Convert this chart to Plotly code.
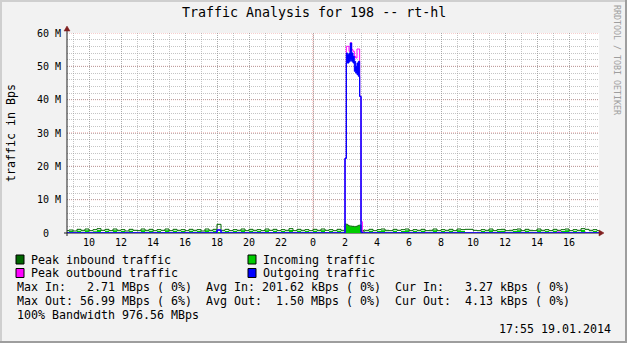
import pandas as pd
import plotly.graph_objects as go

# ---------------- data (values in MBps) ----------------
title_text = "Traffic Analysis for 198 -- rt-hl"
axis_start = "2014-01-18 08:37:30"
axis_end = "2014-01-19 17:52:30"
spike_start = "2014-01-19 02:00:00"

# 15-minute baseline before the burst (ends at 02:00), tenths of MBps
peak_in_pre = [7, 9, 6, 11, 8, 12, 7, 10, 13, 8,
               11, 7, 12, 8, 10, 6, 11, 8, 7, 12,
               8, 11, 7, 10, 8, 12, 7, 11, 8, 10,
               7, 11, 8, 10, 6, 12, 8, 11, 26, 8,
               11, 7, 10, 8, 12, 7, 11, 8, 10, 7,
               12, 8, 11, 7, 10, 8, 13, 7, 11, 8,
               10, 7, 11, 8, 12, 8, 10, 7, 11, 8]
in_pre = [3, 6, 2, 7, 4, 8, 3, 5, 9, 3,
          7, 3, 8, 4, 6, 2, 7, 3, 2, 8,
          4, 7, 2, 6, 3, 8, 3, 7, 4, 6,
          3, 7, 4, 6, 2, 8, 4, 7, 3, 4,
          6, 3, 6, 4, 8, 2, 7, 4, 6, 3,
          8, 3, 7, 3, 6, 4, 9, 2, 7, 4,
          6, 3, 7, 4, 8, 3, 6, 2, 7, 4]
out_pre = [0, 0, 0, 0, 0, 0, 0, 0, 0, 0,
           0, 0, 0, 0, 0, 0, 0, 0, 0, 0,
           0, 0, 0, 0, 0, 0, 0, 0, 0, 0,
           0, 0, 0, 0, 0, 0, 0, 0, 9, 0,
           0, 0, 0, 0, 0, 0, 0, 0, 0, 0,
           0, 0, 0, 0, 0, 0, 0, 0, 0, 0,
           0, 0, 0, 0, 0, 0, 0, 0, 0, 0]

# 5-minute samples of the burst, 02:00 .. 03:10 (MBps)
peak_in_spike = [2.71, 2.6, 2.3, 2.1, 2.1, 2.0, 2.0, 1.9, 2.0, 2.1, 2.3, 2.4, 0.8, 0.5, 0.9]
in_spike = [2.6, 2.5, 2.2, 2.0, 2.0, 1.9, 1.9, 1.8, 1.9, 2.0, 2.2, 2.3, 0.4, 0.2, 0.5]
out_hi_spike = [22.4, 54.0, 53.5, 54.0, 56.99, 54.0, 53.0, 51.5, 50.0, 51.0, 51.5, 41.0, 0.2, 0.0, 0.0]
out_lo_spike = [22.4, 51.0, 51.0, 51.5, 52.0, 51.5, 51.0, 48.5, 48.0, 47.5, 47.0, 41.0, 0.2, 0.0, 0.0]
peak_out_spike = [22.4, 56.0, 56.0, 54.5, 57.1, 55.0, 54.5, 53.0, 52.5, 55.2, 55.2, 41.0, 3.4, 0.3, 0.0]

# 15-minute baseline after the burst (from 03:15), tenths of MBps
peak_in_post = [8, 11, 7, 10, 12, 8, 7, 11, 8, 10,
                12, 7, 10, 8, 11, 7, 8, 12, 7, 10,
                8, 11, 7, 12, 10, 11, 11, 8, 7, 10,
                8, 12, 7, 10, 11, 7, 8, 10, 12, 7,
                11, 8, 7, 12, 8, 10, 7, 11, 8, 10,
                12, 7, 10, 8, 13, 11, 8, 10, 7]
in_post = [4, 7, 3, 6, 8, 4, 3, 7, 3, 6,
           8, 3, 6, 4, 7, 2, 4, 8, 3, 6,
           4, 7, 3, 8, 6, 2, 2, 1, 3, 6,
           4, 8, 3, 6, 7, 3, 4, 6, 8, 3,
           7, 4, 3, 8, 4, 6, 3, 7, 4, 6,
           8, 3, 6, 4, 9, 2, 4, 6, 3]
out_post = [0, 0, 0, 0, 0, 0, 0, 0, 0, 0,
            0, 0, 0, 0, 0, 0, 0, 0, 0, 0,
            0, 0, 0, 0, 0, 0, 0, 0, 0, 0,
            0, 0, 0, 0, 0, 0, 0, 0, 0, 0,
            0, 0, 0, 0, 0, 0, 0, 0, 0, 0,
            0, 0, 0, 0, 0, 0, 0, 0, 0]
peak_out_post = [0, 0, 0, 0, 0, 0, 0, 0, 0, 0,
                 0, 0, 0, 0, 0, 0, 0, 0, 0, 0,
                 0, 0, 0, 0, 0, 0, 0, 0, 0, 0,
                 0, 0, 0, 0, 0, 0, 0, 0, 0, 0,
                 0, 0, 0, 0, 0, 0, 0, 0, 3, 0,
                 0, 0, 0, 0, 0, 0, 0, 0, 0]

x_tick_times = ["2014-01-18 10:00", "2014-01-18 12:00", "2014-01-18 14:00", "2014-01-18 16:00",
                "2014-01-18 18:00", "2014-01-18 20:00", "2014-01-18 22:00", "2014-01-19 00:00",
                "2014-01-19 02:00", "2014-01-19 04:00", "2014-01-19 06:00", "2014-01-19 08:00",
                "2014-01-19 10:00", "2014-01-19 12:00", "2014-01-19 14:00", "2014-01-19 16:00"]
x_tick_labels = ["10", "12", "14", "16", "18", "20", "22", "0", "2", "4", "6", "8",
                 "10", "12", "14", "16"]
y_tick_vals = [0, 10, 20, 30, 40, 50, 60]
y_tick_labels = ["0\u00a0\u00a0", "10 M", "20 M", "30 M", "40 M", "50 M", "60 M"]
y_major_grid = [10, 20, 30, 40, 50, 60]
midnight = "2014-01-19 00:00"

legend_items = [("Peak inbound traffic", "#006600"), ("Incoming traffic", "#00CC00"),
                ("Peak outbound traffic", "#FF00FF"), ("Outgoing traffic", "#0000FF")]
stats_lines = ["Max In:   2.71 MBps ( 0%)  Avg In: 201.62 kBps ( 0%)  Cur In:   3.27 kBps ( 0%)",
               "Max Out: 56.99 MBps ( 6%)  Avg Out:  1.50 MBps ( 0%)  Cur Out:  4.13 kBps ( 0%)",
               "100% Bandwidth 976.56 MBps"]
timestamp_text = "17:55 19.01.2014"
watermark_text = "RRDTOOL / TOBI OETIKER"

# ---------------- build time series ----------------
t_spike = pd.Timestamp(spike_start)
q = pd.Timedelta(minutes=15)
f = pd.Timedelta(minutes=5)
times = ([t_spike - (len(in_pre) - i) * q for i in range(len(in_pre))]
         + [t_spike + i * f for i in range(len(in_spike))])
t_post = t_spike + len(in_spike) * f
times += [t_post + i * q for i in range(len(in_post))]
times.append(times[-1] + q)


def series(pre, spike, post, scale_pre=0.1):
    vals = [v * scale_pre for v in pre] + list(spike) + [v * scale_pre for v in post]
    return vals + [vals[-1]]


in_all = series(in_pre, in_spike, in_post)
peak_in_all = series(peak_in_pre, peak_in_spike, peak_in_post)
out_lo_all = series(out_pre, out_lo_spike, out_post)
out_hi_all = series(out_pre, out_hi_spike, out_post)
peak_out_all = series(out_pre, peak_out_spike, peak_out_post)

# ---------------- figure ----------------
W, H = 627, 343
L, R, T, B = 67, 28, 33, 110
PW, PH = W - L - R, H - T - B
MONO = "DejaVu Sans Mono"


def px(x):
    return (x - L) / PW


def py(y):
    return (T + PH - y) / PH


fig = go.Figure()
fig.add_trace(go.Scatter(x=times, y=in_all, mode="lines", line=dict(color="#00CC00", width=0, shape="hv"),
                         fill="tozeroy", fillcolor="#00CC00", hoverinfo="skip"))
fig.add_trace(go.Scatter(x=times, y=peak_in_all, mode="lines", line=dict(color="#006600", width=1, shape="hv"),
                         hoverinfo="skip"))
fig.add_trace(go.Scatter(x=times, y=peak_out_all, mode="lines", line=dict(color="#FF00FF", width=1, shape="hv"),
                         hoverinfo="skip"))
fig.add_trace(go.Scatter(x=times, y=out_lo_all, mode="lines", line=dict(color="#0000FF", width=1, shape="hv"),
                         hoverinfo="skip"))
fig.add_trace(go.Scatter(x=times, y=out_hi_all, mode="lines", line=dict(color="#0000FF", width=1, shape="hv"),
                         fill="tonexty", fillcolor="#0000FF", hoverinfo="skip"))

grid_minor = "rgba(150,150,150,0.55)"
grid_major = "rgba(222,79,79,0.55)"
dots = "1px,1px"

fig.update_layout(
    width=W, height=H, margin=dict(l=L, r=R, t=T, b=B, pad=0),
    paper_bgcolor="#F2F2F2", plot_bgcolor="#FFFFFF", showlegend=False,
    font=dict(family=MONO, color="#000000", size=10),
    xaxis=dict(type="date", range=[axis_start, axis_end], tickmode="array",
               tickvals=x_tick_times, ticktext=x_tick_labels,
               showgrid=True, gridcolor=grid_minor, griddash=dots, gridwidth=1,
               minor=dict(dtick=3600000, tick0="2014-01-18 00:00", showgrid=True,
                          gridcolor=grid_minor, griddash=dots, gridwidth=1),
               ticks="", showline=False, zeroline=False,
               tickfont=dict(family=MONO, size=10, color="#000000"), ticklabelstandoff=2),
    yaxis=dict(range=[0, 60], tickmode="array", tickvals=y_tick_vals, ticktext=y_tick_labels,
               showgrid=False,
               minor=dict(dtick=2, showgrid=True, gridcolor=grid_minor, griddash=dots, gridwidth=1),
               ticks="", showline=False, zeroline=False,
               tickfont=dict(family=MONO, size=10, color="#000000"), ticklabelstandoff=5),
)

shapes = []
# major grid lines (red dotted), drawn over the minor grid
shapes.append(dict(type="line", xref="x", yref="paper", x0=midnight, x1=midnight, y0=0, y1=1,
                   line=dict(color=grid_major, width=1, dash=dots), layer="between"))
for gv in y_major_grid:
    shapes.append(dict(type="line", xref="paper", yref="y", x0=0, x1=1, y0=gv, y1=gv,
                       line=dict(color=grid_major, width=1, dash=dots), layer="between"))
# axes
axis_col = "#1F1F1F"
arrow_col = "#801F1F"
shapes.append(dict(type="line", xref="paper", yref="paper", x0=px(67), x1=px(67), y0=py(236), y1=py(29),
                   line=dict(color=axis_col, width=1), layer="above"))
shapes.append(dict(type="line", xref="paper", yref="paper", x0=px(64), x1=px(600), y0=py(233), y1=py(233),
                   line=dict(color=axis_col, width=1), layer="between"))
shapes.append(dict(type="path", xref="paper", yref="paper",
                   path=f"M {px(64)} {py(31)} L {px(70)} {py(31)} L {px(67)} {py(26)} Z",
                   fillcolor=arrow_col, line=dict(color=arrow_col, width=0.5), layer="above"))
shapes.append(dict(type="path", xref="paper", yref="paper",
                   path=f"M {px(599)} {py(230)} L {px(599)} {py(236)} L {px(604)} {py(233)} Z",
                   fillcolor=arrow_col, line=dict(color=arrow_col, width=0.5), layer="above"))
# image frame (shade A top/left, shade B bottom/right)
shapes.append(dict(type="rect", xref="paper", yref="paper", x0=px(0), x1=px(W), y0=py(0), y1=py(2),
                   fillcolor="#CFCFCF", line=dict(width=0), layer="above"))
shapes.append(dict(type="rect", xref="paper", yref="paper", x0=px(0), x1=px(2), y0=py(0), y1=py(H),
                   fillcolor="#CFCFCF", line=dict(width=0), layer="above"))
shapes.append(dict(type="rect", xref="paper", yref="paper", x0=px(0), x1=px(W), y0=py(H - 2), y1=py(H),
                   fillcolor="#9E9E9E", line=dict(width=0), layer="above"))
shapes.append(dict(type="rect", xref="paper", yref="paper", x0=px(W - 2), x1=px(W), y0=py(0), y1=py(H),
                   fillcolor="#9E9E9E", line=dict(width=0), layer="above"))

annotations = []


def note(text, x, y, size=11.63, xanchor="left", color="#000000", angle=0):
    annotations.append(dict(text=text.replace(" ", "\u00a0"), xref="paper", yref="paper",
                            x=px(x), y=py(y), xanchor=xanchor, yanchor="middle", showarrow=False,
                            font=dict(family=MONO, size=size, color=color), textangle=angle,
                            borderpad=0, borderwidth=0))


note(title_text, 313.5, 13, size=13.3, xanchor="center")
note("traffic in Bps", 11, 133, angle=-90, xanchor="center")
note(watermark_text, 617, 60, size=8.3, xanchor="center", color="#9E9E9E", angle=90)

leg_pos = [(16, 31, 259.5), (248, 263, 259.5), (16, 31, 273), (248, 263, 273)]
for (label, col), (bx, tx, ty) in zip(legend_items, leg_pos):
    shapes.append(dict(type="rect", xref="paper", yref="paper", x0=px(bx), x1=px(bx + 8),
                       y0=py(ty - 4.5), y1=py(ty + 4.5), fillcolor=col,
                       line=dict(color="#000000", width=1), layer="above"))
    note(label, tx, ty)

for i, line in enumerate(stats_lines):
    note(line, 17, 287 + 14 * i)
note(timestamp_text, 611, 329, xanchor="right")

fig.update_layout(shapes=shapes, annotations=annotations)
fig.write_html("out.html")
